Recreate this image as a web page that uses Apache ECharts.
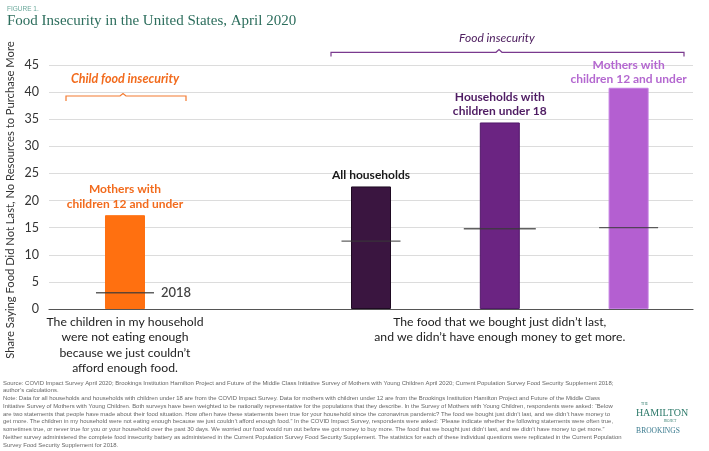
<!DOCTYPE html>
<html>
<head>
<meta charset="utf-8">
<script src="https://cdn.jsdelivr.net/npm/echarts@6/dist/echarts.min.js"></script>
<style>
  html, body { margin: 0; padding: 0; background: #fff; }
  #chart { width: 709px; height: 451px; }
</style>
</head>
<body>
<div id="chart"></div>
<script>
// bars, left to right
var barNames = ['Mothers with\nchildren 12 and under', 'All households', 'Households with\nchildren under 18', 'Mothers with\nchildren 12 and under'];
var barPos = [1.18, 5, 7, 9];
var values2020 = [17.3, 22.6, 34.4, 40.8];
var values2018 = [3.0, 12.5, 14.8, 15.0];

// question text under each group
var questions = [
    'The children in my household\nwere not eating enough\nbecause we just couldn\u2019t\nafford enough food.',
    'The food that we bought just didn\u2019t last,\nand we didn\u2019t have enough money to get more.'
];
var questionPos = [1.18, 7];

var yMin = 0, yMax = 45, yStep = 5;

var barColors = ['#ff7010', '#3a1540', '#6b2482', '#b45fd1'];
var borderColors = ['#ff7010', '#1e0a22', '#52186a', '#c47ee2'];
var labelColors = ['#f26b1d', '#1a1a1a', '#4f1c63', '#b468d0'];
var labelGap = [4, 4, 4, 1];
var markWidth = [58, 59, 72, 59];

var notes = [
    'Source: COVID Impact Survey April 2020; Brookings Institution Hamilton Project and Future of the Middle Class Initiative Survey of Mothers with Young Children April 2020; Current Population Survey Food Security Supplement 2018;',
    'author\u2019s calculations.',
    'Note: Data for all households and households with children under 18 are from the COVID Impact Survey. Data for mothers with children under 12 are from the Brookings Institution Hamilton Project and Future of the Middle Class',
    'Initiative Survey of Mothers with Young Children. Both surveys have been weighted to be nationally representative for the populations that they describe. In the Survey of Mothers with Young Children, respondents were asked: \u201cBelow',
    'are two statements that people have made about their food situation. How often have these statements been true for your household since the coronavirus pandemic? The food we bought just didn\u2019t last, and we didn\u2019t have money to',
    'get more. The children in my household were not eating enough because we just couldn\u2019t afford enough food.\u201d In the COVID Impact Survey, respondents were asked: \u201cPlease indicate whether the following statements were often true,',
    'sometimes true, or never true for you or your household over the past 30 days. We worried our food would run out before we got money to buy more. The food that we bought just didn\u2019t last, and we didn\u2019t have money to get more.\u201d',
    'Neither survey administered the complete food insecurity battery as administered in the Current Population Survey Food Security Supplement. The statistics for each of these individual questions were replicated in the Current Population',
    'Survey Food Security Supplement for 2018.'
];

var sans = 'Lato, "Open Sans", sans-serif';
var serif = '"Liberation Serif", "DejaVu Serif", serif';

var barData = values2020.map(function (v, i) {
    return {
        value: [barPos[i], v],
        itemStyle: { color: barColors[i], borderColor: borderColors[i], borderWidth: 1 },
        label: { color: labelColors[i], distance: labelGap[i] }
    };
});

var markData = values2018.map(function (v, i) {
    var d = { value: [barPos[i], v], symbolSize: [markWidth[i], 1.3] };
    if (i === 0) {
        d.label = {
            show: true, position: 'right', distance: 7, formatter: '2018',
            color: '#111', fontFamily: sans, fontSize: 13, fontWeight: 600
        };
    }
    return d;
});

var chart = echarts.init(document.getElementById('chart'));
chart.setOption({
    animation: false,
    backgroundColor: '#fff',
    title: [
        { text: 'FIGURE 1.', left: 2, top: 1, textStyle: { fontFamily: 'Liberation Sans', fontSize: 6.5, fontWeight: 'normal', color: '#6aa89b' } },
        { text: 'Food Insecurity in the United States, April 2020', left: 2, top: 9, textStyle: { fontFamily: serif, fontSize: 15, fontWeight: 'normal', color: '#2d6e5d' } }
    ],
    grid: { left: 49, right: 16, top: 65, bottom: 142 },
    xAxis: {
        type: 'value', min: 0, max: 10,
        splitLine: { show: false },
        axisTick: { show: false },
        axisLine: { show: true, onZero: false, lineStyle: { color: '#555', width: 1.2 } },
        axisLabel: {
            customValues: questionPos,
            margin: 5,
            hideOverlap: false,
            fontFamily: sans, fontSize: 12.2, lineHeight: 15.5, color: '#222',
            formatter: function (val) {
                for (var i = 0; i < questionPos.length; i++) {
                    if (Math.abs(questionPos[i] - val) < 1e-6) return questions[i];
                }
                return '';
            }
        }
    },
    yAxis: {
        type: 'value', min: yMin, max: yMax, interval: yStep,
        axisLine: { show: false },
        axisTick: { show: false },
        splitLine: { lineStyle: { color: '#dcdcdc', width: 1 } },
        axisLabel: { margin: 10, fontFamily: sans, fontSize: 12.5, color: '#333' }
    },
    series: [
        {
            type: 'bar',
            barWidth: 40,
            data: barData,
            label: {
                show: true, position: 'top',
                fontFamily: sans, fontSize: 12, fontWeight: 'bold', lineHeight: 14.5,
                formatter: function (p) { return barNames[p.dataIndex]; }
            }
        },
        {
            type: 'scatter',
            symbol: 'rect',
            z: 5,
            itemStyle: { color: '#3a3a3a' },
            data: markData
        }
    ],
    graphic: [
        {
            type: 'text', x: 10, y: 200, rotation: Math.PI / 2,
            style: {
                text: 'Share Saying Food Did Not Last, No Resources to Purchase More',
                fontFamily: sans, fontSize: 11.2, fill: '#333', align: 'center', verticalAlign: 'middle'
            }
        },
        // child bracket
        {
            type: 'polyline',
            shape: { points: [[66, 101], [66, 96], [120, 96], [123, 93.5], [126, 96], [186, 96], [186, 101]] },
            style: { stroke: '#f47a30', lineWidth: 1.2, fill: null }
        },
        {
            type: 'text', x: 125, y: 79,
            style: {
                text: 'Child food insecurity', fontFamily: sans, fontSize: 12.5, fontStyle: 'italic', fontWeight: 'bold',
                fill: '#f26b1d', align: 'center', verticalAlign: 'middle'
            }
        },
        // food insecurity bracket
        {
            type: 'polyline',
            shape: { points: [[331, 56.5], [331, 52.3], [496, 52.3], [499, 49.5], [502, 52.3], [684, 52.3], [684, 56.5]] },
            style: { stroke: '#7a3a8e', lineWidth: 1.2, fill: null }
        },
        {
            type: 'text', x: 497, y: 38,
            style: {
                text: 'Food insecurity', fontFamily: sans, fontSize: 12, fontStyle: 'italic',
                fill: '#4f2060', align: 'center', verticalAlign: 'middle'
            }
        },
        // notes
        {
            type: 'text', x: 3, y: 379,
            style: {
                text: notes.join('\n'), fontFamily: '"Liberation Sans", Arial, sans-serif', fontSize: 5.95,
                lineHeight: 7.75, fill: '#666'
            }
        },
        // logo
        { type: 'text', x: 641, y: 404, style: { text: 'THE', fontFamily: serif, fontSize: 3.5, fill: '#2d7a6a', verticalAlign: 'middle' } },
        { type: 'text', x: 662, y: 413, style: { text: 'HAMILTON', fontFamily: serif, fontSize: 10, fill: '#2d7a6a', align: 'center', verticalAlign: 'middle' } },
        { type: 'text', x: 670, y: 421, style: { text: 'PROJECT', fontFamily: serif, fontSize: 3, fill: '#2d7a6a', align: 'center', verticalAlign: 'middle' } },
        { type: 'text', x: 658, y: 431, style: { text: 'BROOKINGS', fontFamily: serif, fontSize: 7.5, fill: '#3a7a8e', align: 'center', verticalAlign: 'middle' } }
    ]
});
</script>
</body>
</html>
